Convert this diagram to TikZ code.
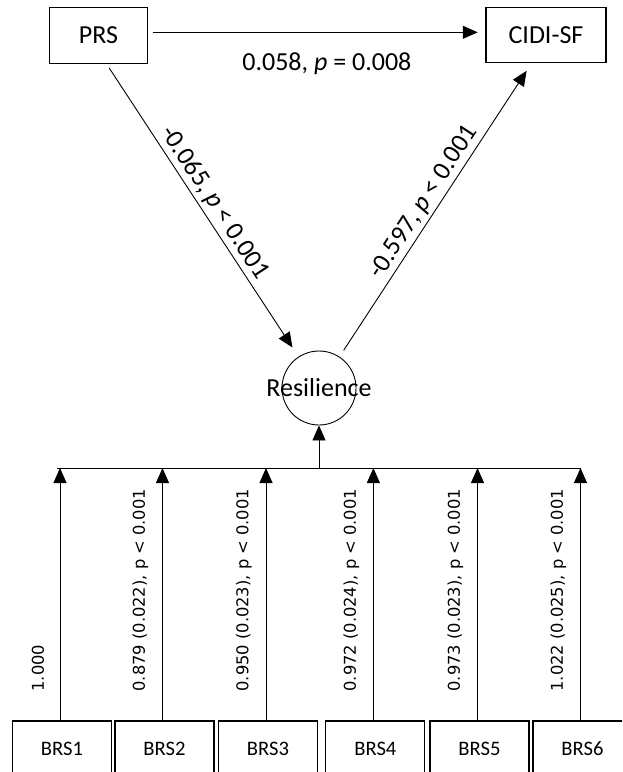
\documentclass[tikz,border=0pt]{standalone}
\usepackage{fontspec}
\setmainfont{Carlito}
\newfontfamily\dejavu{DejaVu Sans}
\usetikzlibrary{arrows.meta,positioning,calc}

\tikzset{
  obsbox/.style={draw, line width=1.1pt, minimum width=98pt, minimum height=56pt, inner sep=0pt, font=\fontsize{26}{30}\selectfont},
  itembox/.style={draw, line width=1.1pt, minimum width=99pt, minimum height=56pt, inner sep=0pt, font=\fontsize{20.6}{24}\selectfont},
  latent/.style={draw, circle, line width=0.9pt, minimum size=74pt, inner sep=0pt},
  effect/.style={line width=0.9pt, -{Triangle[length=15pt,width=13pt]}},
  coef/.style={font=\fontsize{26}{30}\selectfont, inner sep=3pt},
  loadlab/.style={font=\dejavu\fontsize{16.3}{20}\selectfont, rotate=90, anchor=west, inner sep=3pt}
}

\begin{document}
\begin{tikzpicture}[x=1pt, y=-1pt]
    \clip (0,0) rectangle (622,772);
    % Structural model
    \node[obsbox] (prs) at (98.5,35.3) {PRS};
    \node[obsbox, minimum width=120pt, minimum height=55pt] (cidi) at (546,35.3) {CIDI-SF};
    \node[latent, label={[coef]center:Resilience}] (res) at (319,388) {};
    \draw[effect, shorten <=4.6pt, shorten >=7.7pt] ([yshift=3pt]prs.east) -- ([yshift=3pt]cidi.west)
        node[coef, pos=0.53, below=17pt] {0.058, \textit{p} = 0.008};
    \draw[effect, shorten <=4.8pt, shorten >=11pt] ([xshift=8pt]prs.south) -- (res)
        node[coef, midway, above, sloped] {-0.065, \textit{p} < 0.001};
    \draw[effect, shorten <=7.5pt, shorten >=8.9pt] (res) -- ([xshift=-14.5pt]cidi.south)
        node[coef, midway, above, sloped] {-0.597, \textit{p} < 0.001};
    % Measurement model
    \foreach \i/\x/\lab in {1/62/{1.000}, 2/164.5/{0.879 (0.022), p < 0.001}, 3/268/{0.950 (0.023), p < 0.001},
                            4/375.4/{0.972 (0.024), p < 0.001}, 5/479.5/{0.973 (0.023), p < 0.001}, 6/582.5/{1.022 (0.025), p < 0.001}} {
        \node[itembox] (brs\i) at (\x,749) {BRS\i};
        \coordinate (t\i) at (\x-2,468);
        \draw[effect] (brs\i.north -| t\i) -- (t\i);
        \node[loadlab] (lab\i) at (\x-24,694.7) {\lab};
    }
    \draw[line width=0.9pt] ([xshift=-3pt]t1) -- (t6);
    \draw[effect] (res |- t1) -- (res);
\end{tikzpicture}
\end{document}
